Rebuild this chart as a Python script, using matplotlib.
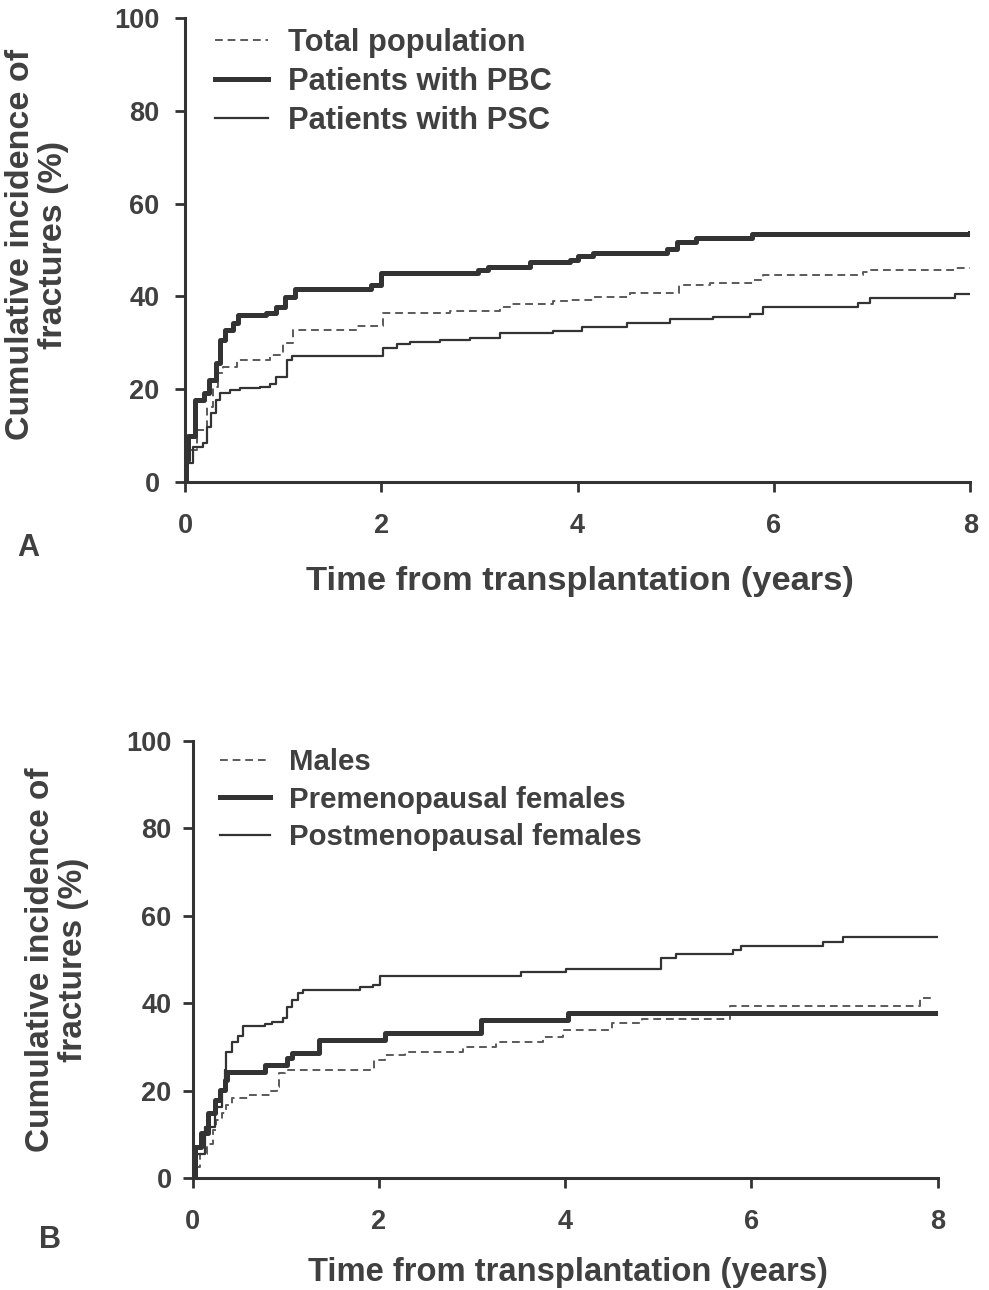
import numpy as np
import matplotlib
matplotlib.use("Agg")
import matplotlib.pyplot as plt

plt.rcParams['font.family'] = ['Liberation Sans', 'DejaVu Sans']
plt.rcParams['font.weight'] = 'bold'

INK = '#333333'
TXT = '#404040'

# --- panel A: by diagnosis ---
total_t = [0, 0.02, 0.12, 0.22, 0.29, 0.34, 0.39, 0.53, 0.87, 1.00, 1.10, 1.75, 2.02, 2.70,
           3.21, 3.31, 3.75, 3.92, 4.16, 4.53, 5.03, 5.35, 5.79, 5.89, 6.91, 6.98, 7.86, 8.0]
total_y = [0, 6.9, 11.2, 16.2, 20.5, 23.4, 24.8, 26.3, 27.4, 29.9, 32.8, 33.5, 36.4, 36.9,
           37.6, 38.3, 38.9, 39.2, 39.9, 40.7, 42.5, 42.9, 43.5, 44.6, 45.3, 45.7, 46.0, 46.0]

pbc_t = [0, 0.01, 0.03, 0.10, 0.19, 0.25, 0.32, 0.36, 0.41, 0.49, 0.54, 0.83, 0.93, 1.02,
         1.12, 1.90, 2.00, 2.99, 3.09, 3.52, 3.92, 4.00, 4.16, 4.91, 5.01, 5.21, 5.78, 8.0]
pbc_y = [0, 4.7, 9.8, 17.7, 19.1, 22.0, 25.6, 30.6, 32.8, 34.2, 36.0, 36.5, 37.8, 39.9,
         41.5, 42.5, 45.1, 45.7, 46.4, 47.3, 47.8, 48.7, 49.4, 50.1, 51.8, 52.5, 53.4, 53.6]

psc_t = [0, 0.01, 0.08, 0.18, 0.22, 0.27, 0.32, 0.36, 0.46, 0.56, 0.76, 0.87, 0.93, 1.04,
         1.09, 2.02, 2.16, 2.29, 2.60, 2.90, 3.21, 3.75, 4.04, 4.50, 4.94, 5.38, 5.76, 5.89,
         6.86, 6.98, 7.85, 8.0]
psc_y = [0, 4.0, 7.6, 8.4, 11.9, 14.8, 17.7, 19.1, 19.8, 20.2, 20.5, 21.1, 22.7, 26.3,
         27.2, 28.8, 29.7, 30.2, 30.6, 31.1, 32.0, 32.6, 33.3, 34.2, 35.1, 35.6, 36.3, 37.6,
         38.5, 39.6, 40.5, 40.5]

# --- panel B: by sex / menopausal status ---
male_t = [0, 0.02, 0.08, 0.15, 0.22, 0.25, 0.31, 0.36, 0.42, 0.59, 0.83, 0.90, 0.93, 0.99,
          1.95, 2.06, 2.28, 2.90, 3.26, 3.76, 3.98, 4.50, 4.82, 5.77, 7.81, 7.96]
male_y = [0, 2.6, 5.6, 7.9, 11.0, 13.3, 14.8, 16.7, 18.2, 19.0, 19.8, 20.9, 24.0, 24.7,
          27.0, 28.1, 28.9, 29.9, 31.2, 32.3, 33.9, 35.4, 36.5, 39.4, 41.1, 41.1]

pre_t = [0, 0.02, 0.09, 0.16, 0.24, 0.29, 0.34, 0.37, 0.77, 1.01, 1.06, 1.35, 2.06, 3.10,
         4.03, 8.0]
pre_y = [0, 7.2, 10.2, 14.8, 17.8, 20.1, 22.4, 24.3, 25.9, 27.4, 28.5, 31.6, 33.1, 36.2,
         37.7, 37.7]

post_t = [0, 0.02, 0.13, 0.24, 0.31, 0.34, 0.36, 0.42, 0.49, 0.54, 0.78, 0.85, 0.97, 1.01,
          1.06, 1.13, 1.18, 1.80, 1.94, 2.01, 3.53, 4.01, 5.03, 5.19, 5.80, 5.89, 6.77, 6.98,
          8.0]
post_y = [0, 5.6, 11.7, 16.3, 20.1, 24.7, 28.9, 31.2, 32.4, 34.7, 35.3, 35.8, 36.6, 39.2,
          40.7, 42.3, 43.0, 43.6, 44.2, 46.3, 47.2, 47.8, 50.3, 51.3, 52.2, 53.0, 54.1, 55.2,
          55.2]

x_ticks = [0, 2, 4, 6, 8]
y_ticks = [0, 20, 40, 60, 80, 100]
xlabel = 'Time from transplantation (years)'
ylabel = 'Cumulative incidence of\nfractures (%)'

dashed = dict(color='#5a5a5a', lw=1.4, ls=(0, (4, 2.5)))
thick = dict(color=INK, lw=3.6)
thin = dict(color=INK, lw=1.6)


def style_axes(ax, fs, xpad, ypad):
    ax.set_xlim(0, 8)
    ax.set_ylim(0, 100)
    ax.set_xticks(x_ticks)
    ax.set_yticks(y_ticks)
    for s in ['top', 'right']:
        ax.spines[s].set_visible(False)
    for s in ['left', 'bottom']:
        ax.spines[s].set_linewidth(2.2)
        ax.spines[s].set_color(INK)
    ax.tick_params(length=7.2, width=2.0, color=INK, labelsize=fs, labelcolor=TXT)
    ax.tick_params(axis='x', pad=xpad)
    ax.tick_params(axis='y', pad=ypad)
    for lab in ax.get_xticklabels() + ax.get_yticklabels():
        lab.set_fontweight('bold')


def add_legend(ax, fs, anchor, spacing):
    ax.legend(loc='upper left', bbox_to_anchor=anchor, frameon=False,
              prop=dict(size=fs, weight='bold'), handlelength=1.72, handletextpad=0.65,
              labelspacing=spacing, borderpad=0, borderaxespad=0, labelcolor=TXT)


fig = plt.figure(figsize=(9.89, 12.90), dpi=100)

axA = fig.add_axes([0.187, 0.6264, 0.794, 0.3597])
axA.plot(total_t, total_y, drawstyle='steps-post', label='Total population', **dashed)
axA.plot(pbc_t, pbc_y, drawstyle='steps-post', label='Patients with PBC', **thick)
axA.plot(psc_t, psc_y, drawstyle='steps-post', label='Patients with PSC', **thin)
style_axes(axA, 19.5, 15, 11)
axA.set_xlabel(xlabel, fontsize=24.8, fontweight='bold', color=TXT, va='center')
axA.xaxis.set_label_coords(0.503, -0.2155)
axA.set_ylabel(ylabel, fontsize=24.5, fontweight='bold', color=TXT, va='center',
               linespacing=1.1)
axA.yaxis.set_label_coords(-0.1885, 0.511)
add_legend(axA, 22.2, (0.038, 0.979), 0.3)
fig.text(28 / 989, 1 - 548 / 1290, 'A', fontsize=22, fontweight='bold', color=TXT,
         ha='center', va='center')

axB = fig.add_axes([0.195, 0.0868, 0.753, 0.3388])
axB.plot(male_t, male_y, drawstyle='steps-post', label='Males', **dashed)
axB.plot(pre_t, pre_y, drawstyle='steps-post', label='Premenopausal females', **thick)
axB.plot(post_t, post_y, drawstyle='steps-post', label='Postmenopausal females', **thin)
style_axes(axB, 19.5, 15, 8)
axB.set_xlabel(xlabel, fontsize=23.6, fontweight='bold', color=TXT, va='center')
axB.xaxis.set_label_coords(0.503, -0.217)
axB.set_ylabel(ylabel, fontsize=24, fontweight='bold', color=TXT, va='center',
               linespacing=1.1)
axB.yaxis.set_label_coords(-0.1826, 0.499)
add_legend(axB, 21.2, (0.036, 0.984), 0.33)
fig.text(50 / 989, 1 - 1240 / 1290, 'B', fontsize=22, fontweight='bold', color=TXT,
         ha='center', va='center')

fig.savefig('out.png', dpi=100, facecolor='white')
